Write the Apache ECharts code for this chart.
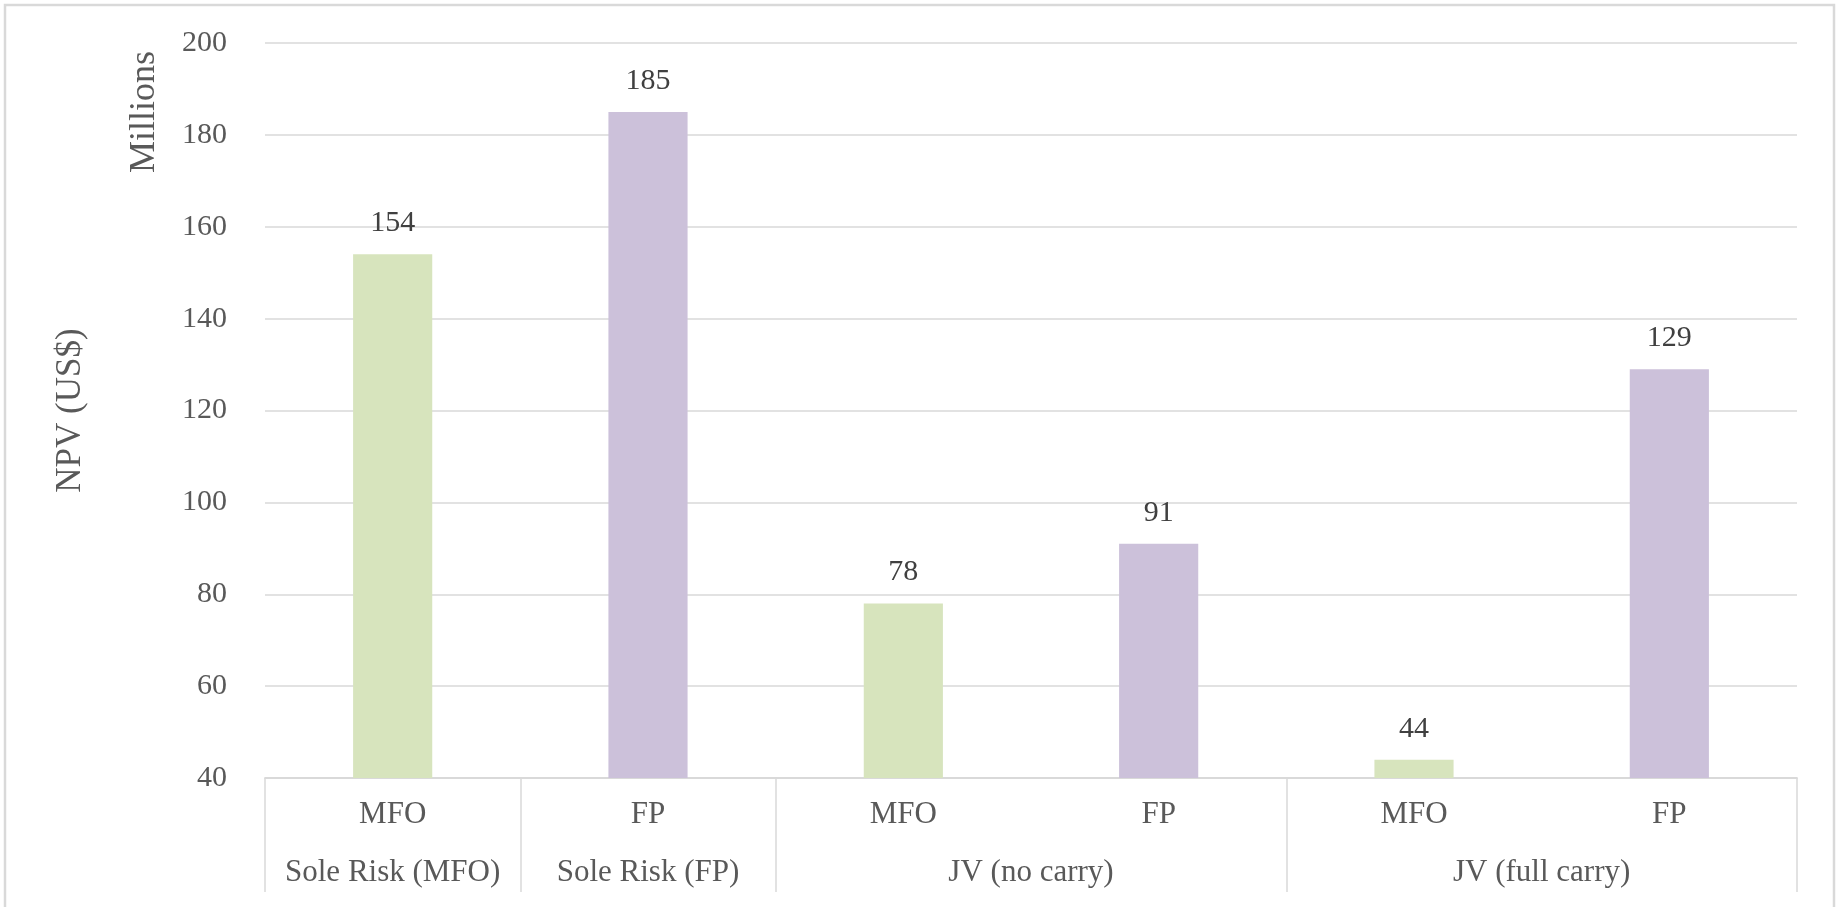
<!DOCTYPE html>
<html>
<head>
<meta charset="utf-8">
<script src="https://cdn.jsdelivr.net/npm/echarts@6/dist/echarts.min.js"></script>
<style>
  html, body { margin: 0; padding: 0; background: #ffffff; }
  #chart { width: 1837px; height: 907px; }
</style>
</head>
<body>
<div id="chart"></div>
<script>
// Bar categories (inner level) and the scenario groups they belong to (outer level)
const categories = ['MFO', 'FP', 'MFO', 'FP', 'MFO', 'FP'];
const npvValues = [154, 185, 78, 91, 44, 129];
const groupNames = ['Sole Risk (MFO)', 'Sole Risk (FP)', 'JV (no carry)', 'JV (full carry)'];
const groupSpans = [1, 1, 2, 2];
const yTicks = { min: 40, max: 200, step: 20 };

const FONT = "'Liberation Serif', 'Times New Roman', serif";
const GRID_COLOR = '#d9d9d9';
const TEXT_COLOR = '#595959';
const fillFor = { MFO: '#d7e4bd', FP: '#ccc1da' };

// Outer axis is laid on a half-step grid (2 slots per bar) so group labels can
// sit between bars and separators on the group boundaries.
const halfSlots = categories.length * 2 + 1;
const outerData = new Array(halfSlots).fill('');
const boundaryIdx = [0];
let acc = 0;
groupSpans.forEach((span, i) => {
  outerData[acc * 2 + span] = groupNames[i];
  acc += span;
  boundaryIdx.push(acc * 2);
});
const labelIdx = [];
outerData.forEach((v, i) => { if (v) labelIdx.push(i); });

const chart = echarts.init(document.getElementById('chart'));
chart.setOption({
  backgroundColor: '#ffffff',
  animation: false,
  grid: { left: 265, right: 40, top: 43, bottom: 129, containLabel: false },
  xAxis: [
    {
      type: 'category',
      data: categories,
      position: 'bottom',
      axisLine: { show: true, lineStyle: { color: GRID_COLOR, width: 1.5 } },
      axisTick: { show: false },
      axisLabel: {
        color: TEXT_COLOR, fontFamily: FONT, fontSize: 31,
        margin: 37, verticalAlign: 'middle', interval: 0
      }
    },
    {
      type: 'category',
      data: outerData,
      position: 'bottom',
      boundaryGap: false,
      axisLine: { show: true, lineStyle: { color: GRID_COLOR, width: 1.5 } },
      axisTick: {
        show: true, length: 114,
        interval: (i) => boundaryIdx.includes(i),
        lineStyle: { color: GRID_COLOR, width: 1.5 }
      },
      axisLabel: {
        color: TEXT_COLOR, fontFamily: FONT, fontSize: 31,
        margin: 95, verticalAlign: 'middle',
        interval: (i) => labelIdx.includes(i)
      },
      splitLine: { show: false }
    }
  ],
  yAxis: {
    type: 'value',
    min: yTicks.min, max: yTicks.max, interval: yTicks.step,
    name: 'NPV (US$)',
    nameLocation: 'middle',
    nameRotate: 90,
    nameGap: 177,
    nameTextStyle: { color: TEXT_COLOR, fontFamily: FONT, fontSize: 35 },
    axisLine: { show: false },
    axisTick: { show: false },
    axisLabel: { color: TEXT_COLOR, fontFamily: FONT, fontSize: 30, margin: 38 },
    splitLine: { lineStyle: { color: GRID_COLOR, width: 1.5 } }
  },
  series: [{
    type: 'bar',
    xAxisIndex: 0,
    data: npvValues,
    barWidth: '31%',
    itemStyle: { color: (p) => fillFor[p.name] },
    label: {
      show: true, position: 'top', distance: 16,
      color: '#404040', fontFamily: FONT, fontSize: 30, lineHeight: 30
    }
  }],
  graphic: [
    {
      type: 'rect',
      shape: { x: 5, y: 5, width: 1829, height: 930 },
      style: { fill: 'none', stroke: '#d9d9d9', lineWidth: 2.5 },
      silent: true
    },
    {
      type: 'text',
      x: 145, y: 112,
      rotation: Math.PI / 2,
      style: {
        text: 'Millions', fill: TEXT_COLOR, font: '36px ' + FONT,
        textAlign: 'center', textVerticalAlign: 'middle'
      },
      silent: true
    }
  ]
});
</script>
</body>
</html>
